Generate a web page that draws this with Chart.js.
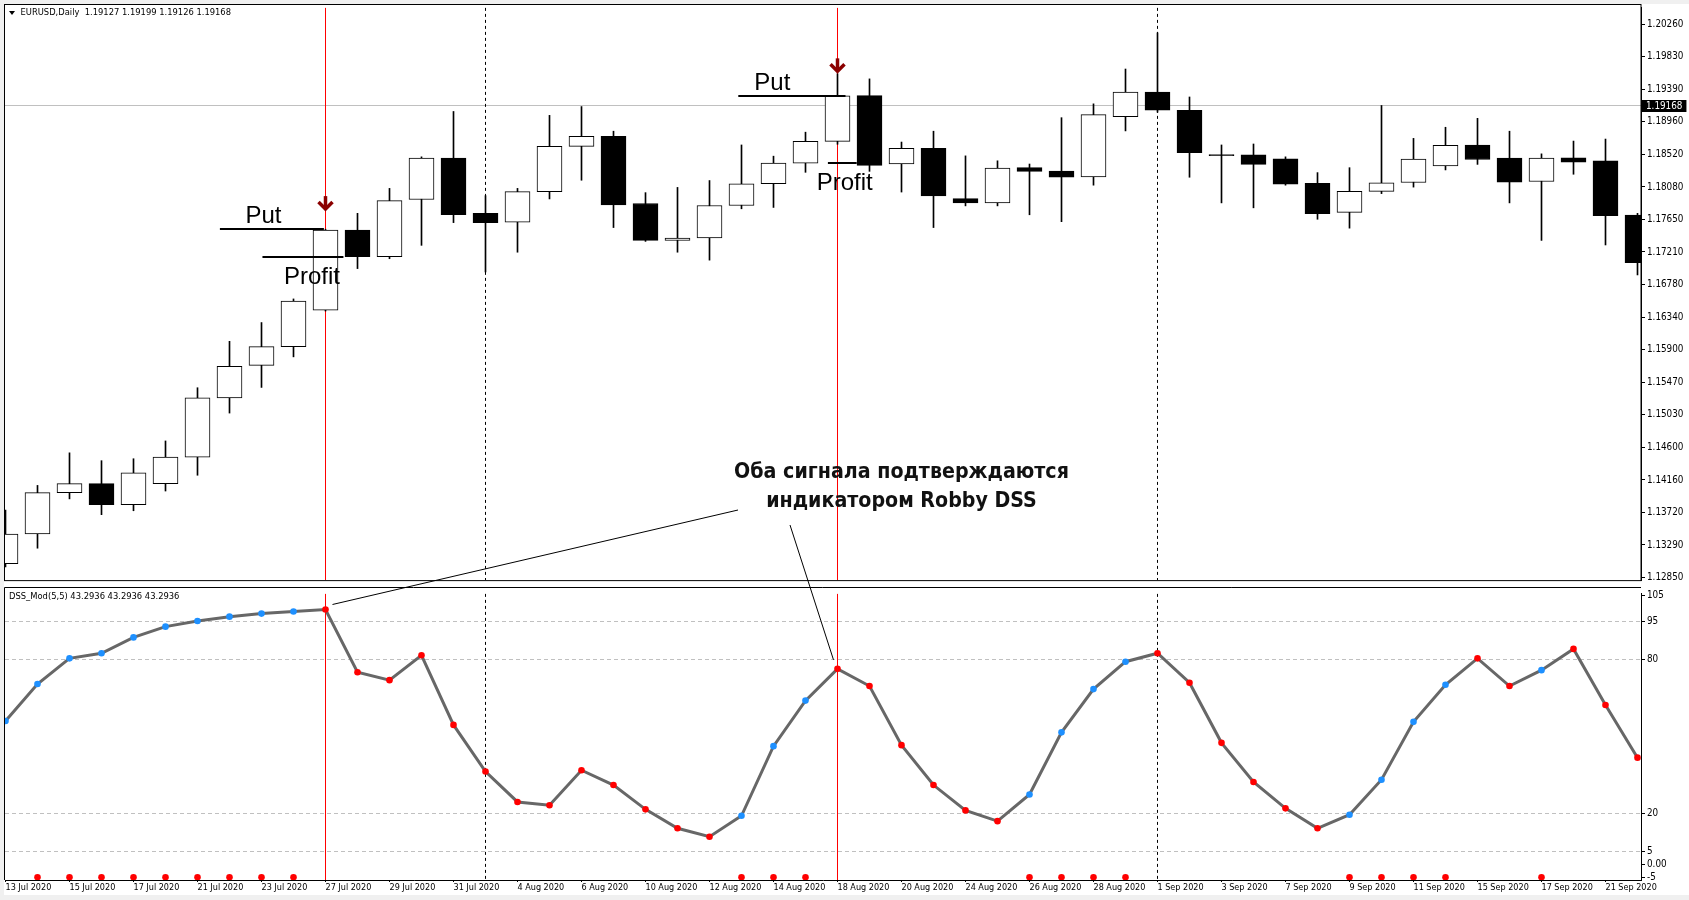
<!DOCTYPE html>
<html><head><meta charset="utf-8">
<script src="https://cdn.jsdelivr.net/npm/chart.js@4.4.0/dist/chart.umd.min.js"></script>
<style>
html,body{margin:0;padding:0;background:#f0f0f0;width:1689px;height:900px;overflow:hidden;}
#wrap{position:absolute;left:4px;top:4px;width:1685px;height:891px;background:#fff;}
canvas{position:absolute;}
#c1{left:0;top:0;}
#c2{left:0;top:586px;}
#ov{left:0;top:0;pointer-events:none;}
</style></head><body>
<div id="wrap"></div>
<canvas id="c1" width="1689" height="588"></canvas>
<canvas id="c2" width="1689" height="314"></canvas>
<canvas id="ov" width="1689" height="900"></canvas>
<script>
// ---------- data ----------
const dates = ['13 Jul 2020','14 Jul 2020','15 Jul 2020','16 Jul 2020','17 Jul 2020','20 Jul 2020','21 Jul 2020','22 Jul 2020','23 Jul 2020','24 Jul 2020',
'27 Jul 2020','28 Jul 2020','29 Jul 2020','30 Jul 2020','31 Jul 2020','3 Aug 2020','4 Aug 2020','5 Aug 2020','6 Aug 2020','7 Aug 2020',
'10 Aug 2020','11 Aug 2020','12 Aug 2020','13 Aug 2020','14 Aug 2020','17 Aug 2020','18 Aug 2020','19 Aug 2020','20 Aug 2020','21 Aug 2020',
'24 Aug 2020','25 Aug 2020','26 Aug 2020','27 Aug 2020','28 Aug 2020','31 Aug 2020','1 Sep 2020','2 Sep 2020','3 Sep 2020','4 Sep 2020',
'7 Sep 2020','8 Sep 2020','9 Sep 2020','10 Sep 2020','11 Sep 2020','14 Sep 2020','15 Sep 2020','16 Sep 2020','17 Sep 2020','18 Sep 2020',
'21 Sep 2020','22 Sep 2020'];
const openP  = [1.13041,1.13437,1.13991,1.14110,1.13828,1.14110,1.14466,1.15258,1.15694,1.15945,
1.16433,1.17502,1.17146,1.17912,1.18466,1.17727,1.17608,1.18017,1.18624,1.18756,
1.17859,1.17365,1.17397,1.17832,1.18123,1.18400,1.18690,1.19302,1.18387,1.18598,
1.17925,1.17867,1.18338,1.18294,1.18215,1.19020,1.19350,1.19104,1.18512,1.18510,
1.18457,1.18127,1.17740,1.18021,1.18140,1.18360,1.18642,1.18466,1.18153,1.18470,
1.18430,1.17704];
const highP  = [1.13758,1.14087,1.14523,1.14418,1.14444,1.14682,1.15394,1.16015,1.16266,1.16582,
1.17515,1.17727,1.18061,1.18483,1.19090,1.17964,1.18061,1.19038,1.19156,1.18826,
1.18004,1.18074,1.18166,1.18642,1.18492,1.18813,1.19596,1.19526,1.18681,1.18826,
1.18496,1.18430,1.18387,1.19007,1.19192,1.19658,1.20142,1.19284,1.18642,1.18655,
1.18483,1.18272,1.18338,1.19170,1.18730,1.18879,1.18998,1.18826,1.18523,1.18694,
1.18721,1.17727];
const lowP   = [1.12995,1.13247,1.13907,1.13696,1.13748,1.14012,1.14223,1.15055,1.15398,1.15807,
1.16420,1.16988,1.17120,1.17299,1.17603,1.16943,1.17207,1.17920,1.18170,1.17537,
1.17352,1.17207,1.17101,1.17788,1.17806,1.18276,1.18651,1.18289,1.18012,1.17537,
1.17827,1.17827,1.17708,1.17616,1.18104,1.18830,1.19080,1.18210,1.17867,1.17801,
1.18104,1.17648,1.17529,1.17991,1.18078,1.18308,1.18382,1.17867,1.17365,1.18250,
1.17304,1.16903];
const closeP = [1.13437,1.13991,1.14110,1.13828,1.14255,1.14466,1.15258,1.15681,1.15945,1.16552,
1.17502,1.17146,1.17898,1.18466,1.17708,1.17603,1.18017,1.18624,1.18756,1.17840,
1.17365,1.17397,1.17832,1.18123,1.18400,1.18690,1.19298,1.18368,1.18598,1.17959,
1.17867,1.18334,1.18289,1.18210,1.19047,1.19350,1.19108,1.18540,1.18499,1.18382,
1.18118,1.17722,1.18021,1.18136,1.18453,1.18638,1.18448,1.18144,1.18466,1.18413,
1.17695,1.17067];
const priceTicks = [1.20260,1.19830,1.19390,1.18960,1.18520,1.18080,1.17650,1.17210,1.16780,
1.16340,1.15900,1.15470,1.15030,1.14600,1.14160,1.13720,1.13290,1.12850];
const lastPrice = 1.19168;
const headerText = 'EURUSD,Daily  1.19127 1.19199 1.19126 1.19168';

const dss = [56.0,70.5,80.5,82.5,88.7,92.9,95.1,96.8,98.0,98.8,
99.6,75.1,72.0,81.7,54.5,36.3,24.4,23.1,36.8,31.0,
21.5,14.1,10.8,19.0,46.2,64.0,76.4,69.7,46.6,31.0,
21.1,16.9,27.3,51.6,68.5,79.2,82.5,71.0,47.5,32.2,
21.9,14.1,19.4,33.1,55.7,70.2,80.5,69.7,75.9,84.2,
62.3,41.7];
const dssSignal = ['u','u','u','u','u','u','u','u','u','u',
'd','d','d','d','d','d','d','d','d','d',
'd','d','d','u','u','u','d','d','d','d',
'd','d','u','u','u','u','d','d','d','d',
'd','d','u','u','u','u','d','d','u','d',
'd','d'];
const bottomDotBars = [1,2,3,4,5,6,7,8,9,23,24,25,32,33,34,35,42,43,44,45,48];
const bottomDotValue = -5;
const dssTicks = [105,95,80,20,5,0,-5];
const dssLevels = [95,80,20,5];
const dssHeader = 'DSS_Mod(5,5) 43.2936 43.2936 43.2936';

const signalBars = [10,26];         // red vertical lines
const monthStartBars = [15,36];     // dashed period separators
const arrowBars = [10,26];
const arrowPrices = [1.17757,1.19600];
const putLines = [{from:6.7,to:9.95,price:1.17520,textAt:7.5},{from:22.9,to:26.25,price:1.19298,textAt:23.4}];
const profitLines = [{from:8.03,to:10.56,price:1.17146,textAt:8.7},{from:25.7,to:26.6,price:1.18395,textAt:25.35}];
const noteLines = ['Оба сигнала подтверждаются','индикатором Robby DSS'];
const noteBar = 28;

// ---------- layout constants ----------
const XMIN = -0.015625, XMAX = 51.109375;
const FAM = '"DejaVu Sans Condensed","DejaVu Sans",sans-serif';
const DATEFONT = {family:FAM, size:9};
const AXISFONT = {family:FAM, size:9.8};
const HEADCSS = '9.3px ' + FAM;
const BIG = '24px "Liberation Sans",Arial,sans-serif';

function vLines(chart){
  const {ctx, chartArea:a, scales:{x}} = chart;
  ctx.save();
  ctx.lineWidth = 1;
  monthStartBars.forEach(b=>{
    const px = Math.round(x.getPixelForValue(b)-0.5)+0.5;
    ctx.strokeStyle='#000'; ctx.setLineDash([3,3]);
    ctx.beginPath(); ctx.moveTo(px,a.top); ctx.lineTo(px,a.bottom); ctx.stroke();
  });
  ctx.setLineDash([]);
  signalBars.forEach(b=>{
    const px = Math.round(x.getPixelForValue(b)-0.5)+0.5;
    ctx.strokeStyle='#ff0000';
    ctx.beginPath(); ctx.moveTo(px,a.top); ctx.lineTo(px,a.bottom); ctx.stroke();
  });
  ctx.restore();
}

function drawArrow(ctx, x, tip){
  ctx.save();
  ctx.strokeStyle='#8b0000'; ctx.lineWidth=3.5; ctx.lineCap='butt'; ctx.lineJoin='miter';
  ctx.beginPath(); ctx.moveTo(x, tip-15); ctx.lineTo(x, tip-4); ctx.stroke();
  ctx.beginPath(); ctx.moveTo(x-7, tip-9); ctx.lineTo(x, tip-2); ctx.lineTo(x+7, tip-9); ctx.stroke();
  ctx.restore();
}

const mainPlugin = {
  id:'mainDeco',
  beforeDatasetsDraw(chart){
    const {ctx, chartArea:a, scales:{y}} = chart;
    ctx.save();
    const py = Math.round(y.getPixelForValue(lastPrice)-0.5)+0.5;
    ctx.strokeStyle='#c0c0c0'; ctx.lineWidth=1;
    ctx.beginPath(); ctx.moveTo(a.left,py); ctx.lineTo(a.right,py); ctx.stroke();
    ctx.restore();
    vLines(chart);
  },
  afterDatasetsDraw(chart){
    const {ctx, scales:{x,y}} = chart;
    ctx.save();
    ctx.strokeStyle='#000'; ctx.lineWidth=2; ctx.fillStyle='#000';
    ctx.font = BIG; ctx.textAlign='left'; ctx.textBaseline='alphabetic';
    putLines.forEach(l=>{
      const py = Math.round(y.getPixelForValue(l.price));
      ctx.beginPath(); ctx.moveTo(x.getPixelForValue(l.from),py); ctx.lineTo(x.getPixelForValue(l.to),py); ctx.stroke();
      ctx.fillText('Put', x.getPixelForValue(l.textAt), py-6);
    });
    profitLines.forEach(l=>{
      const py = Math.round(y.getPixelForValue(l.price));
      ctx.beginPath(); ctx.moveTo(x.getPixelForValue(l.from),py); ctx.lineTo(x.getPixelForValue(l.to),py); ctx.stroke();
      ctx.fillText('Profit', x.getPixelForValue(l.textAt), py+27);
    });
    arrowBars.forEach((b,i)=> drawArrow(ctx, x.getPixelForValue(b), y.getPixelForValue(arrowPrices[i])));
    ctx.font = 'bold 21.2px ' + FAM;
    ctx.textAlign='center'; ctx.fillStyle='#111';
    const cx = x.getPixelForValue(noteBar);
    ctx.fillText(noteLines[0], cx, 478);
    ctx.fillText(noteLines[1], cx, 507);
    ctx.restore();
  },
  afterDraw(chart){
    const {ctx, chartArea:a, scales:{y}} = chart;
    ctx.save();
    ctx.strokeStyle='#000'; ctx.lineWidth=1;
    ctx.strokeRect(4.5,4.5,a.right-4.5,a.bottom+0.5-4.5);
    // header
    ctx.fillStyle='#000';
    ctx.beginPath(); ctx.moveTo(9,11); ctx.lineTo(15,11); ctx.lineTo(12,15); ctx.closePath(); ctx.fill();
    ctx.font = HEADCSS; ctx.textBaseline='middle'; ctx.textAlign='left';
    ctx.fillText(headerText, 20.5, 13);
    // last price box
    const py = Math.round(y.getPixelForValue(lastPrice));
    ctx.font = AXISFONT.size + 'px ' + FAM;
    const tw = ctx.measureText(lastPrice.toFixed(5)).width;
    ctx.fillStyle='#000';
    ctx.fillRect(a.right+1, py-6, Math.max(44, tw+8), 12);
    ctx.fillStyle='#fff';
    ctx.fillText(lastPrice.toFixed(5), a.right+5, py+0.5);
    ctx.restore();
  }
};

const idx = dates.map((d,i)=>i);
const c1 = new Chart(document.getElementById('c1'), {
  type:'bar',
  data:{datasets:[
    {label:'wick', data: idx.map(i=>({x:i, y:[lowP[i], highP[i]]})), backgroundColor:'#000', barThickness:1, grouped:false, order:2},
    {label:'body', data: idx.map(i=>({x:i, y:[openP[i], closeP[i]]})),
     backgroundColor: idx.map(i=> closeP[i] >= openP[i] ? '#ffffff' : '#000000'),
     borderColor:'#000', borderWidth:1, borderSkipped:false, barThickness:25, grouped:false, order:1}
  ]},
  options:{
    responsive:false, animation:false, events:[],
    layout:{padding:{left:5, top:5, right:0, bottom:3}},
    plugins:{legend:{display:false}, tooltip:{enabled:false}},
    scales:{
      x:{type:'linear', min:XMIN, max:XMAX, offset:false, display:false},
      y:{position:'right', min:1.12820, max:1.20476,
         afterFit:s=>{s.width=48;},
         afterBuildTicks:s=>{s.ticks = priceTicks.map(v=>({value:v}));},
         ticks:{autoSkip:false, color:'#000', padding:2, font:AXISFONT, callback:v=>Number(v).toFixed(5)},
         grid:{drawOnChartArea:false, tickLength:4, color:'#000'},
         border:{color:'#000'}}
    }
  },
  plugins:[mainPlugin]
});

const indPlugin = {
  id:'indDeco',
  beforeDatasetsDraw(chart){ vLines(chart); },
  afterDraw(chart){
    const {ctx, chartArea:a} = chart;
    ctx.save();
    ctx.strokeStyle='#000'; ctx.lineWidth=1;
    ctx.beginPath(); ctx.moveTo(4.5,a.bottom); ctx.lineTo(4.5,1.5); ctx.lineTo(a.right,1.5); ctx.stroke();
    ctx.fillStyle='#000'; ctx.font=HEADCSS; ctx.textBaseline='middle'; ctx.textAlign='left';
    ctx.fillText(dssHeader, 9, 10.5);
    ctx.restore();
  }
};

const c2 = new Chart(document.getElementById('c2'), {
  type:'line',
  data:{datasets:[
    {label:'DSS', data: idx.map(i=>({x:i, y:dss[i]})), borderColor:'#676767', borderWidth:3,
     pointRadius:3.3, pointBorderWidth:0, pointBackgroundColor: dssSignal.map(s=> s==='u' ? '#1e90ff' : '#ff0000'),
     tension:0, clip:0},
    {label:'signal', data: bottomDotBars.map(i=>({x:i, y:bottomDotValue})), showLine:false,
     pointRadius:3.3, pointBorderWidth:0, pointBackgroundColor:'#ff0000', clip:0}
  ]},
  options:{
    responsive:false, animation:false, events:[],
    layout:{padding:{left:5, top:2, right:0, bottom:0}},
    plugins:{legend:{display:false}, tooltip:{enabled:false}},
    scales:{
      x:{type:'linear', min:XMIN, max:XMAX, offset:false,
         afterFit:s=>{s.height=20;},
         afterBuildTicks:s=>{s.ticks = idx.filter(i=>i%2===0).map(v=>({value:v}));},
         ticks:{autoSkip:false, maxRotation:0, minRotation:0, align:'start', padding:0, color:'#000', font:DATEFONT,
                callback:v=>dates[v]},
         grid:{drawOnChartArea:false, tickLength:2, color:'#000'},
         border:{color:'#000'}},
      y:{position:'right', min:-6.1, max:105.7,
         afterFit:s=>{s.width=48;},
         afterBuildTicks:s=>{s.ticks = dssTicks.map(v=>({value:v}));},
         ticks:{autoSkip:false, color:'#000', padding:2, font:AXISFONT, callback:v=> v===0 ? '0.00' : String(v)},
         grid:{color:c=> (c.tick && dssLevels.includes(c.tick.value)) ? '#c0c0c0' : 'rgba(0,0,0,0)',
               tickColor:'#000', tickLength:4},
         border:{color:'#000', dash:[4,3]}}
    }
  },
  plugins:[indPlugin]
});

// callout lines spanning both panels
(function(){
  const ov = document.getElementById('ov').getContext('2d');
  const x2 = c2.scales.x, y2 = c2.scales.y;
  const top2 = 586;
  ov.strokeStyle='#000'; ov.lineWidth=1;
  ov.beginPath();
  ov.moveTo(738,510);
  ov.lineTo(x2.getPixelForValue(signalBars[0])+7, top2 + y2.getPixelForValue(dss[signalBars[0]]) - 5);
  ov.stroke();
  ov.beginPath();
  ov.moveTo(790,525);
  ov.lineTo(x2.getPixelForValue(signalBars[1])-4, top2 + y2.getPixelForValue(dss[signalBars[1]]) - 9);
  ov.stroke();
})();
</script>
</body></html>
